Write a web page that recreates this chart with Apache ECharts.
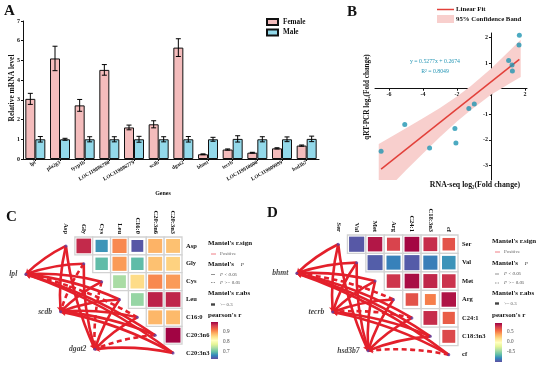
<!DOCTYPE html>
<html><head><meta charset="utf-8">
<script src="https://cdn.jsdelivr.net/npm/echarts@6/dist/echarts.min.js"></script>
<style>html,body{margin:0;padding:0;background:#fff}#c{width:550px;height:366px}</style>
</head><body><div id="c"></div><script>
// ---------- Panel A data ----------
const genes = ['lpl','pla2g3','tyrp1b','LOC119886780','LOC119886779','scdb','dgat2','bhmt','tecrb','LOC119910000','LOC119909999','hsd3b7'];
const female    = [3.05, 5.10, 2.72, 4.52, 1.60, 1.76, 5.65, 0.24, 0.48, 0.32, 0.54, 0.68];
const femaleErr = [0.28, 0.62, 0.30, 0.27, 0.12, 0.18, 0.45, 0.02, 0.03, 0.02, 0.03, 0.03];
const male      = [1.00, 1.00, 1.00, 1.00, 1.00, 1.00, 1.00, 1.00, 1.02, 1.00, 1.00, 1.02];
const maleErr   = [0.14, 0.05, 0.13, 0.13, 0.15, 0.13, 0.14, 0.10, 0.16, 0.13, 0.12, 0.14];
const yTicksA = [0,1,2,3,4,5,6,7];

// ---------- Panel B data ----------
const rnaSeq = [-6.46,-5.07,-3.61,-2.12,-2.06,-1.30,-0.98,1.04,1.24,1.26,1.65,1.67];
const qpcr   = [-2.45,-1.40,-2.32,-1.56,-2.12,-0.77,-0.60,1.10,0.93,0.69,1.71,2.09];
const fitSlope = 0.5277, fitIntercept = 0.2674;
const bandX     = [-6.6, -5.0, -4.0, -3.0, -2.0, -1.2, 0.0, 1.0, 1.75];
const bandUpper = [-2.16,-1.55,-1.15,-0.75,-0.30, 0.10, 0.78, 1.43, 1.92];
const bandLower = [-4.28,-3.19,-2.53,-1.89,-1.28,-0.84,-0.24, 0.17, 0.46];
const xTicksB = [-6,-4,-2,0,2];
const yTicksB = [-3,-2,-1,1,2];
const xRangeB = [-6.82, 2.12], yRangeB = [-3.57, 2.18];

// ---------- Panel C data ----------
const varsC = ['Asp','Gly','Cys','Leu','C16:0','C20:3n6','C20:3n3'];
const corC = [
  [null, 0.975, 0.675, 0.910, 0.635, 0.885, 0.875],
  [null, null,  0.700, 0.900, 0.700, 0.875, 0.862],
  [null, null,  null,  0.740, 0.855, 0.910, 0.900],
  [null, null,  null,  null,  0.730, 0.980, 0.978],
  [null, null,  null,  null,  null,  0.882, 0.880],
  [null, null,  null,  null,  null,  null,  0.998],
  [null, null,  null,  null,  null,  null,  null ]
];
const genesC = ['lpl','scdb','dgat2'];
// 1 = p < 0.05 (solid), 0 = p >= 0.05 (dashed)
const mantelSigC = [
  [1,1,1,1,0,1,1],
  [1,0,1,1,1,1,1],
  [1,1,0,1,1,0,1]
];
const colorTicksC = [0.9, 0.8, 0.7];

// ---------- Panel D data ----------
const varsD = ['Ser','Val','Met','Arg','C24:1','C18:3n3','cf'];
const corD = [
  [null,-0.97, 0.87, 0.72, 0.92, 0.80, 0.66],
  [null, null,-0.95,-0.83,-0.96,-0.84,-0.77],
  [null, null, null, 0.77, 0.90, 0.82, 0.78],
  [null, null, null, null, 0.66, 0.50, 0.88],
  [null, null, null, null, null, 0.80, 0.62],
  [null, null, null, null, null, null, 0.70],
  [null, null, null, null, null, null, null]
];
const genesD = ['bhmt','tecrb','hsd3b7'];
const mantelSigD = [
  [1,1,1,0,1,1,1],
  [1,1,1,1,0,1,1],
  [1,1,1,1,1,1,0]
];
const colorTicksD = [0.5, 0.0, -0.5];

// ---------- layout / style ----------
const SERIF = '"Liberation Serif","Times New Roman",serif';
const spectral = ['#5E4FA2','#3288BD','#66C2A5','#ABDDA4','#E6F598','#FFFFBF','#FEE08B','#FDAE61','#F46D43','#D53E4F','#9E0142'];
const geneNodePos = [[-2.25,1.58],[-0.3,3.68],[1.62,5.78]]; // in cell units of the network grid
const rangeC = [0.63, 1.0], rangeD = [-1.0, 0.94];
const gridA = {left:23, top:21, width:296, height:138};
const gridB = {left:375, top:33, width:152, height:147};
const gridC = {left:57, top:237, width:125, height:125};
const gridD = {left:329, top:235, width:129, height:129};
const barW = 10;
const linkColor = '#e3202b';
// axis-crossing offsets for panel B (axes cross at the origin)
const xAxisOffB = -gridB.height*(0-yRangeB[0])/(yRangeB[1]-yRangeB[0]);
const yAxisOffB = -gridB.width*(0-xRangeB[0])/(xRangeB[1]-xRangeB[0]);

function f(sz, w, it){ return (it?'italic ':'') + (w||'bold') + ' ' + sz + 'px ' + SERIF; }

const chart = echarts.init(document.getElementById('c'), null, {renderer:'canvas', width:550, height:366});

function errRender(sign){
  return function(params, api){
    const i = api.value(0), v = api.value(1), e = api.value(2);
    const p1 = api.coord([i, v+e]), p2 = api.coord([i, v-e]);
    const x = p1[0] + sign*barW/2;
    const st = {stroke:'#000', lineWidth:1};
    return {type:'group', children:[
      {type:'line', shape:{x1:x,y1:p1[1],x2:x,y2:p2[1]}, style:st},
      {type:'line', shape:{x1:x-2.5,y1:p1[1],x2:x+2.5,y2:p1[1]}, style:st},
      {type:'line', shape:{x1:x-2.5,y1:p2[1],x2:x+2.5,y2:p2[1]}, style:st}
    ]};
  };
}
function cellRender(params, api){
  const x = api.value(0), y = api.value(1), r = api.value(2);
  const c = api.coord([x,y]);
  const sz = api.size([1,1]);
  const w = sz[0], h = sz[1];
  const s = Math.sqrt(Math.abs(r));
  const iw = (w-3)*s, ih = (h-3)*s;
  return {type:'group', children:[
    {type:'rect', shape:{x:c[0]-w/2, y:c[1]-h/2, width:w, height:h}, style:{fill:'#fff', stroke:'#d2d2d2', lineWidth:1.3}},
    {type:'rect', shape:{x:c[0]-iw/2, y:c[1]-ih/2, width:iw, height:ih}, style:{fill:api.visual('color')}}
  ]};
}
function cellData(cor){
  const d = [];
  cor.forEach((row,i)=>row.forEach((r,j)=>{ if(r!==null) d.push([j,i,r]); }));
  return d;
}
function linkData(sig){
  const d = [];
  sig.forEach((row,g)=>row.forEach((s,v)=>{
    d.push({coords:[[v,v], geneNodePos[g]], lineStyle:{type: s ? 'solid' : [5,3.5]}});
  }));
  return d;
}
const geneLabel = {show:true, position:'left', distance:7, fontFamily:SERIF, fontStyle:'italic', fontWeight:'bold', fontSize:7.6, color:'#111'};

const series = [];
// A
series.push({type:'bar', name:'Female', xAxisIndex:0, yAxisIndex:0, data:female, barWidth:barW, barGap:'0%',
  itemStyle:{color:'#f4bcbc', borderColor:'#111', borderWidth:1}});
series.push({type:'bar', name:'Male', xAxisIndex:0, yAxisIndex:0, data:male, barWidth:barW, barGap:'0%',
  itemStyle:{color:'#93d9ea', borderColor:'#111', borderWidth:1}});
series.push({type:'custom', xAxisIndex:0, yAxisIndex:0, renderItem:errRender(-1), z:5,
  data:female.map((v,i)=>[i,v,femaleErr[i]])});
series.push({type:'custom', xAxisIndex:0, yAxisIndex:0, renderItem:errRender(1), z:5,
  data:male.map((v,i)=>[i,v,maleErr[i]])});
// B
series.push({type:'custom', xAxisIndex:1, yAxisIndex:1, z:1, data:[[0,0]],
  renderItem:function(params, api){
    const pts = [];
    bandX.forEach((x,k)=>pts.push(api.coord([x, bandUpper[k]])));
    for(let k=bandX.length-1;k>=0;k--) pts.push(api.coord([bandX[k], bandLower[k]]));
    const cs = params.coordSys;
    return {type:'polygon', shape:{points:pts}, style:{fill:'#f8cfcd'},
      clipPath:{type:'rect', shape:{x:cs.x, y:cs.y, width:cs.width, height:cs.height}}};
  }});
const xMinData = Math.min(...rnaSeq), xMaxData = Math.max(...rnaSeq);
series.push({type:'line', xAxisIndex:1, yAxisIndex:1, symbol:'none', z:3,
  lineStyle:{color:'#e2403a', width:1.5},
  data:[[xMinData, fitSlope*xMinData+fitIntercept],[xMaxData, fitSlope*xMaxData+fitIntercept]]});
series.push({type:'scatter', xAxisIndex:1, yAxisIndex:1, symbolSize:5, z:4,
  itemStyle:{color:'#1f95b2'}, data:rnaSeq.map((x,i)=>[x,qpcr[i]])});
// C
const idxC = series.length;
series.push({type:'custom', xAxisIndex:2, yAxisIndex:2, renderItem:cellRender, data:cellData(corC), z:2});
series.push({type:'lines', coordinateSystem:'cartesian2d', xAxisIndex:3, yAxisIndex:3, clip:false, z:6,
  symbol:['none','arrow'], symbolSize:5, lineStyle:{color:linkColor, width:2.6, curveness:-0.08, opacity:1},
  data:linkData(mantelSigC)});
series.push({type:'scatter', xAxisIndex:3, yAxisIndex:3, clip:false, symbolSize:3, z:7,
  itemStyle:{color:'#5b3fa0'},
  data:varsC.map((v,i)=>[i,i]).concat(geneNodePos.map((p,g)=>({value:p, label:Object.assign({formatter:genesC[g]}, geneLabel)}))),
  label:{show:false}});
// D
const idxD = series.length;
series.push({type:'custom', xAxisIndex:4, yAxisIndex:4, renderItem:cellRender, data:cellData(corD), z:2});
series.push({type:'lines', coordinateSystem:'cartesian2d', xAxisIndex:5, yAxisIndex:5, clip:false, z:6,
  symbol:['none','arrow'], symbolSize:5, lineStyle:{color:linkColor, width:2.6, curveness:-0.08, opacity:1},
  data:linkData(mantelSigD)});
series.push({type:'scatter', xAxisIndex:5, yAxisIndex:5, clip:false, symbolSize:3, z:7,
  itemStyle:{color:'#5b3fa0'},
  data:varsD.map((v,i)=>[i,i]).concat(geneNodePos.map((p,g)=>({value:p, label:Object.assign({formatter:genesD[g]}, geneLabel)}))),
  label:{show:false}});

const noAxis = {show:false};
const catLbl = {fontFamily:SERIF, fontWeight:'bold', fontSize:6.5, color:'#111'};

// ---------- graphics ----------
const G = [];
function txt(x,y,t,font,opt){ G.push({type:'text', x:x, y:y, z:100, style:Object.assign({text:t, font:font, fill:'#111', textAlign:'left', textVerticalAlign:'middle'}, opt||{})}); }
txt(4,11,'A',f(15)); txt(347,12,'B',f(15)); txt(6,217,'C',f(15)); txt(267,213,'D',f(15));
// A axis titles
G.push({type:'text', x:12, y:88, rotation:Math.PI/2, z:100, style:{text:'Relative mRNA level', font:f(7.5), fill:'#111', textAlign:'center', textVerticalAlign:'middle'}});
txt(163,193,'Genes',f(6),{textAlign:'center'});
// B titles, legend, equation
G.push({type:'text', x:367, y:97, rotation:Math.PI/2, z:100, style:{text:'qRT-PCR log\u2082(Fold change)', font:f(7.2), fill:'#111', textAlign:'center', textVerticalAlign:'middle'}});
txt(475,185,'RNA-seq log\u2082(Fold change)',f(7.8),{textAlign:'center'});
G.push({type:'line', z:100, shape:{x1:437,y1:9.5,x2:454,y2:9.5}, style:{stroke:'#e2403a', lineWidth:1.5}});
G.push({type:'rect', z:100, shape:{x:437,y:15,width:17,height:8}, style:{fill:'#f8cfcd'}});
txt(456,9.5,'Linear Fit',f(6.8)); txt(456,19,'95% Confidence Band',f(6.8));
txt(435,61,'y = 0.5277x + 0.2674',f(5.8,'normal'),{textAlign:'center', fill:'#2596b5'});
txt(435,71,'R\u00b2 = 0.8049',f(5.8,'normal'),{textAlign:'center', fill:'#2596b5'});
// C/D legends
function mantelLegend(x0, ys, cbTop, cbH, range, ticks){
  const kx = x0+3, tx = x0+12;
  txt(x0, ys[0], "Mantel's r.sign", f(7));
  G.push({type:'line', z:100, shape:{x1:kx,y1:ys[1],x2:kx+5,y2:ys[1]}, style:{stroke:'#f07f86', lineWidth:1}});
  txt(tx, ys[1], 'Positive', f(5,'normal'), {fill:'#666'});
  G.push({type:'text', x:x0, y:ys[2], z:100, style:{text:"{a|Mantel's}  {b|P}", textVerticalAlign:'middle', rich:{a:{font:f(7), fill:'#111'}, b:{font:f(5,'normal',true), fill:'#111'}}}});
  G.push({type:'line', z:100, shape:{x1:kx,y1:ys[3],x2:kx+4,y2:ys[3]}, style:{stroke:'#777', lineWidth:0.8}});
  txt(tx, ys[3], 'P < 0.05', f(4.8,'normal',true), {fill:'#555'});
  G.push({type:'line', z:100, shape:{x1:kx,y1:ys[4],x2:kx+4,y2:ys[4]}, style:{stroke:'#777', lineWidth:0.8, lineDash:[1.5,1.2]}});
  txt(tx, ys[4], 'P >= 0.05', f(4.8,'normal',true), {fill:'#555'});
  txt(x0, ys[5], "Mantel's r.abs", f(7));
  G.push({type:'line', z:100, shape:{x1:kx,y1:ys[6],x2:kx+4,y2:ys[6]}, style:{stroke:'#444', lineWidth:2.4}});
  txt(tx, ys[6], '>= 0.3', f(4.8,'normal'), {fill:'#555'});
  txt(x0, ys[7], "pearson's r", f(7));
  const stops = spectral.map((c,k)=>({offset:k/(spectral.length-1), color:c}));
  G.push({type:'rect', z:100, shape:{x:kx, y:cbTop, width:7, height:cbH}, style:{fill:new echarts.graphic.LinearGradient(0,1,0,0,stops)}});
  ticks.forEach(v=>{
    const y = cbTop + (range[1]-v)/(range[1]-range[0])*cbH;
    txt(kx+12, y, v.toFixed(1), f(5.2,'normal'), {fill:'#444'});
  });
}
mantelLegend(208, [243.5,254,264.5,274.5,282.5,293.5,304.5,315.5], 322, 37, rangeC, colorTicksC);
mantelLegend(492, [241,252,263.5,274,283,293,303.5,315], 323, 39, rangeD, colorTicksD);

const option = {
  animation:false,
  backgroundColor:'#fff',
  textStyle:{fontFamily:SERIF},
  legend:{data:['Female','Male'], orient:'vertical', left:266, top:18, itemWidth:11, itemHeight:6, itemGap:2.5,
    icon:'rect', padding:0, textStyle:{fontFamily:SERIF, fontWeight:'bold', fontSize:7.2, color:'#111'}},
  grid:[gridA, gridB, gridC, gridC, gridD, gridD],
  xAxis:[
    {type:'category', gridIndex:0, data:genes,
      axisLine:{lineStyle:{color:'#111', width:1}}, axisTick:{show:true, length:2, alignWithLabel:true, lineStyle:{color:'#111'}},
      axisLabel:{rotate:30, margin:3, interval:0, fontFamily:SERIF, fontWeight:'bold', fontSize:5.3, color:'#111'}},
    {type:'value', gridIndex:1, min:xRangeB[0], max:xRangeB[1], splitLine:{show:false}, position:'bottom', offset:xAxisOffB,
      axisLine:{onZero:false, lineStyle:{color:'#111', width:1}},
      axisTick:{length:2, lineStyle:{color:'#111'}, customValues:xTicksB},
      axisLabel:{customValues:xTicksB, margin:3, fontFamily:SERIF, fontWeight:'bold', fontSize:6, color:'#111'}},
    {type:'category', gridIndex:2, data:varsC, position:'top', axisLine:noAxis, axisTick:noAxis, splitLine:{show:false},
      axisLabel:Object.assign({rotate:90, margin:3}, catLbl)},
    {type:'value', gridIndex:3, min:-0.5, max:6.5, show:false},
    {type:'category', gridIndex:4, data:varsD, position:'top', axisLine:noAxis, axisTick:noAxis, splitLine:{show:false},
      axisLabel:Object.assign({rotate:90, margin:3}, catLbl)},
    {type:'value', gridIndex:5, min:-0.5, max:6.5, show:false}
  ],
  yAxis:[
    {type:'value', gridIndex:0, min:0, max:7, interval:1, splitLine:{show:false},
      axisLine:{show:true, lineStyle:{color:'#111', width:1}}, axisTick:{show:true, length:2, lineStyle:{color:'#111'}},
      axisLabel:{customValues:yTicksA, margin:3, fontFamily:SERIF, fontWeight:'bold', fontSize:6, color:'#111'}},
    {type:'value', gridIndex:1, min:yRangeB[0], max:yRangeB[1], splitLine:{show:false}, position:'left', offset:yAxisOffB,
      axisLine:{show:true, onZero:false, lineStyle:{color:'#111', width:1}},
      axisTick:{show:true, length:2, lineStyle:{color:'#111'}, customValues:yTicksB},
      axisLabel:{customValues:yTicksB, margin:3, fontFamily:SERIF, fontWeight:'bold', fontSize:6, color:'#111'}},
    {type:'category', gridIndex:2, data:varsC, inverse:true, position:'right', axisLine:noAxis, axisTick:noAxis, splitLine:{show:false},
      axisLabel:Object.assign({margin:4}, catLbl)},
    {type:'value', gridIndex:3, min:-0.5, max:6.5, inverse:true, show:false},
    {type:'category', gridIndex:4, data:varsD, inverse:true, position:'right', axisLine:noAxis, axisTick:noAxis, splitLine:{show:false},
      axisLabel:Object.assign({margin:4}, catLbl)},
    {type:'value', gridIndex:5, min:-0.5, max:6.5, inverse:true, show:false}
  ],
  visualMap:[
    {type:'continuous', show:false, min:rangeC[0], max:rangeC[1], dimension:2, seriesIndex:idxC, inRange:{color:spectral}},
    {type:'continuous', show:false, min:rangeD[0], max:rangeD[1], dimension:2, seriesIndex:idxD, inRange:{color:spectral}}
  ],
  series:series,
  graphic:G
};
chart.setOption(option);
</script></body></html>
